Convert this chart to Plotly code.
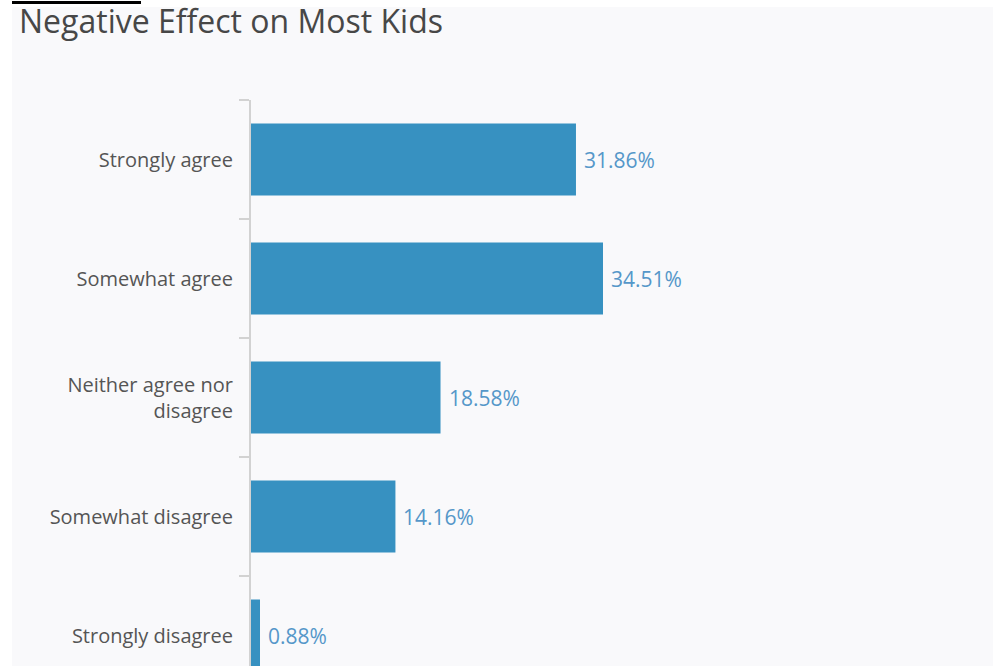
import plotly.graph_objects as go

# Survey responses and their shares (%)
categories = ["Strongly agree", "Somewhat agree", "Neither agree nor<br>disagree",
              "Somewhat disagree", "Strongly disagree"]
shares = [31.86, 34.51, 18.58, 14.16, 0.88]
labels = ["31.86%", "34.51%", "18.58%", "14.16%", "0.88%"]

W, H = 993, 666
ML, MR, MT, MB = 251, 8, 100, 0
PANEL = "#f9f9fb"
BAR = "#3791c1"
LABEL = "#5597c9"

fig = go.Figure()
fig.add_trace(go.Bar(
    x=shares,
    y=categories,
    orientation="h",
    marker=dict(color=BAR, line=dict(width=0)),
    hoverinfo="skip",
))

for c, v, t in zip(categories, shares, labels):
    fig.add_annotation(
        x=v, y=c, text=t, showarrow=False,
        xanchor="left", yanchor="middle", xshift=6,
        font=dict(family="Open Sans", size=21, color=LABEL),
    )

# convert pixel positions to paper coordinates for the framing shapes
pw = W - ML - MR
ph = H - MT - MB
def px_x(p):
    return (p - ML) / pw
def px_y(p):
    return (H - MB - p) / ph

shapes = [
    dict(type="rect", xref="paper", yref="paper", x0=px_x(0), x1=px_x(12),
         y0=px_y(H + 5), y1=px_y(-5), fillcolor="white", line=dict(width=0), layer="below"),
    dict(type="rect", xref="paper", yref="paper", x0=px_x(0), x1=px_x(W + 5),
         y0=px_y(7), y1=px_y(-5), fillcolor="white", line=dict(width=0), layer="below"),
    dict(type="rect", xref="paper", yref="paper", x0=px_x(12), x1=px_x(141),
         y0=px_y(4), y1=px_y(1), fillcolor="black", line=dict(width=0), layer="above"),
]

band = 119.0
fig.update_layout(
    width=W, height=H,
    margin=dict(l=ML, r=MR, t=MT, b=MB, pad=0),
    paper_bgcolor=PANEL,
    plot_bgcolor=PANEL,
    bargap=0.395,
    showlegend=False,
    shapes=shapes,
    title=dict(
        text="Negative Effect on Most Kids",
        xref="container", yref="container",
        x=19 / W, xanchor="left",
        y=1 - 22 / H, yanchor="middle",
        font=dict(family="Open Sans", size=32, color="#474747"),
    ),
    xaxis=dict(
        range=[0, pw / 10.2],
        showgrid=False, zeroline=False, showticklabels=False,
        showline=False, ticks="",
    ),
    yaxis=dict(
        type="category",
        categoryorder="array",
        categoryarray=categories,
        range=[-0.5 + ph / band, -0.5],
        tickson="boundaries",
        ticks="outside", ticklen=10, tickwidth=1.5, tickcolor="#d2d2d2",
        ticklabelstandoff=12,
        showline=True, linecolor="#d2d2d2", linewidth=2,
        showgrid=False, zeroline=False,
        tickfont=dict(family="Open Sans", size=20, color="#555555"),
    ),
)

fig.write_html("out.html")
